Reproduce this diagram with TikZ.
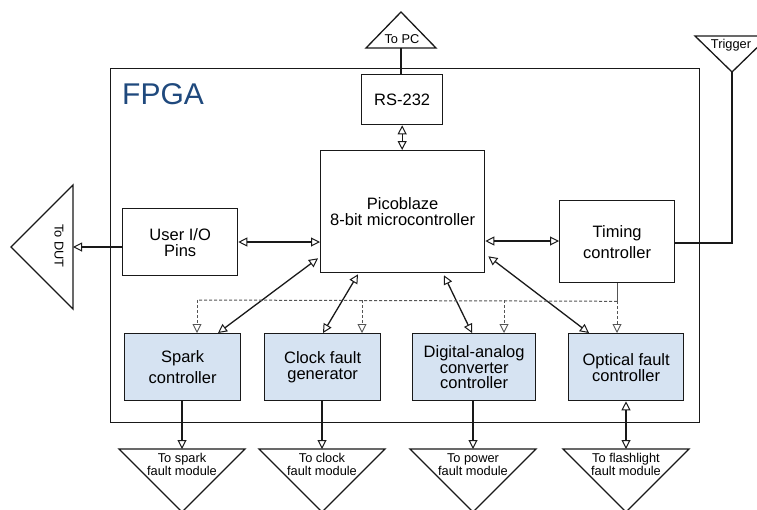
\documentclass[tikz,border=0pt]{standalone}
\usepackage{fontspec}
\setmainfont{Liberation Sans}
\usetikzlibrary{arrows.meta,calc}
\definecolor{fpgablue}{RGB}{31,73,125}
\definecolor{boxfill}{RGB}{214,227,242}
\definecolor{dashgray}{RGB}{85,85,85}
\tikzset{
  blk/.style={draw=black!90, line width=1.3pt, inner sep=0pt, anchor=north west, align=center, font=\fontsize{16.5}{21}\selectfont},
  fblk/.style={blk, fill=boxfill},
  conn/.style={draw=black!90, line width=1.3pt},
  otip/.tip={Triangle[open,length=9pt,width=9pt,line width=1pt]},
  biarr/.style={conn, otip-otip},
  onearr/.style={conn, -otip},
  dsh/.style={draw=dashgray, line width=1pt, dash pattern=on 3pt off 2pt},
  dsharr/.style={dsh, -{Triangle[open,length=9pt,width=9pt,line width=0.9pt]}},
  tri/.style={draw=black!90, line width=1.3pt, fill=white},
  trilbl/.style={inner sep=0pt, align=center, font=\fontsize{12.8}{13}\selectfont},
}
\begin{document}
\begin{tikzpicture}[x=1pt,y=-1pt]
\useasboundingbox (0,0) rectangle (757,509);
% FPGA
\node[draw=black!90, line width=1.3pt, minimum width=589pt, minimum height=354pt, inner sep=0pt, anchor=north west] (fpga) at (110,68) {};
\node[anchor=base west, inner sep=0pt, text=fpgablue, font=\fontsize{30}{30}\selectfont] (fpgalbl) at (122,104) {FPGA};
% blocks
\node[blk, minimum width=81pt, minimum height=50pt] (rs) at (361,74) {RS-232};
\node[blk, minimum width=164pt, minimum height=122pt, font=\fontsize{16.5}{16.5}\selectfont] (pico) at (320,150) {Picoblaze\\[-0.5pt]8-bit microcontroller};
\node[blk, minimum width=115pt, minimum height=67pt, font=\fontsize{16.5}{16}\selectfont] (uio) at (122,208) {User I/O\\Pins};
\node[blk, minimum width=115pt, minimum height=82pt] (tim) at (559,200) {Timing\\controller};
\node[fblk, minimum width=116pt, minimum height=67pt] (spark) at (124,333) {Spark\\controller};
\node[fblk, minimum width=116pt, minimum height=67pt, font=\fontsize{16.5}{16}\selectfont] (clk) at (264,333) {Clock fault\\generator};
\node[fblk, minimum width=123pt, minimum height=67pt, font=\fontsize{16.5}{15.5}\selectfont] (dac) at (412,333) {Digital-analog\\converter\\controller};
\node[fblk, minimum width=115pt, minimum height=67pt, font=\fontsize{16.5}{16}\selectfont] (opt) at (568,333) {Optical fault\\controller};
% triangles
\draw[tri] (366,48) -- (401,12) -- (436,48) -- cycle;
\coordinate (pcbase) at (401,48);
\node[trilbl] (pclbl) at (402,39) {To PC};
\draw[tri] (695,36) -- (769,36) -- (732,72) -- cycle;
\coordinate (trigtip) at (732,72);
\node[trilbl] (triglbl) at (731,45) {Trigger};
\draw[tri] (73,185) -- (73,309) -- (11,247) -- cycle;
\coordinate (dutbase) at (73,247);
\node[trilbl, rotate=-90] (dutlbl) at (59,246) {To DUT};
\foreach \n/\x/\a/\b in {tsp/182/To spark/fault module, tck/322/To clock/fault module, tpw/473/To power/fault module, tfl/626/To flashlight/fault module}{
  \draw[tri] (\x-63,449) -- (\x+63,449) -- (\x,512) -- cycle;
  \coordinate (\n) at (\x,449);
  \node[trilbl] (\n lbl) at (\x,464.5) {\a\\\b};
}
% connectors
\draw[conn] (pcbase) -- (rs.north -| pcbase);
\draw[biarr] (rs.south) -- (pico.north -| rs.south);
\draw[onearr] (uio.west |- dutbase) -- (dutbase);
\draw[biarr] ($(uio.north east)+(0,34)$) -- ($(pico.north west)+(0,92)$);
\draw[biarr] ($(pico.north east)+(0,91)$) -- ($(tim.north west)+(0,41)$);
\draw[conn] (trigtip) -- ($(trigtip)+(0,171)$) -- ($(tim.north east)+(0,43)$);
% diagonal links
\draw[biarr] ($(pico.south west)+(-2,-15)$) -- ($(spark.north west)+(94,0)$);
\draw[biarr] ($(pico.south west)+(38,1)$) -- ($(clk.north west)+(59,0)$);
\draw[biarr] ($(pico.south west)+(124,2)$) -- ($(dac.north west)+(60,0)$);
\draw[biarr] ($(pico.south east)+(3,-17)$) -- ($(opt.north west)+(21,0)$);
% dashed timing distribution
\coordinate (tbus) at ($(tim.south west)+(58,18)$);
\draw[conn, line width=1pt, draw=dashgray] ($(tim.south west)+(58,0)$) -- (tbus);
\draw[dsh] (tbus) -- ($(spark.north west)+(73,-33)$);
\draw[dsharr] (tbus) -- ($(opt.north west)+(49,0)$);
\draw[dsharr] ($(spark.north west)+(73,-33)$) -- ($(spark.north west)+(73,0)$);
\draw[dsharr] ($(clk.north west)+(98,-33)$) -- ($(clk.north west)+(98,0)$);
\draw[dsharr] ($(dac.north west)+(92,-33)$) -- ($(dac.north west)+(92,0)$);
% outputs
\draw[onearr] ($(spark.south west)+(58,0)$) -- (tsp);
\draw[onearr] ($(clk.south west)+(58,0)$) -- (tck);
\draw[onearr] ($(dac.south west)+(61,0)$) -- (tpw);
\draw[biarr] ($(opt.south west)+(58,0)$) -- (tfl);
\end{tikzpicture}
\end{document}
